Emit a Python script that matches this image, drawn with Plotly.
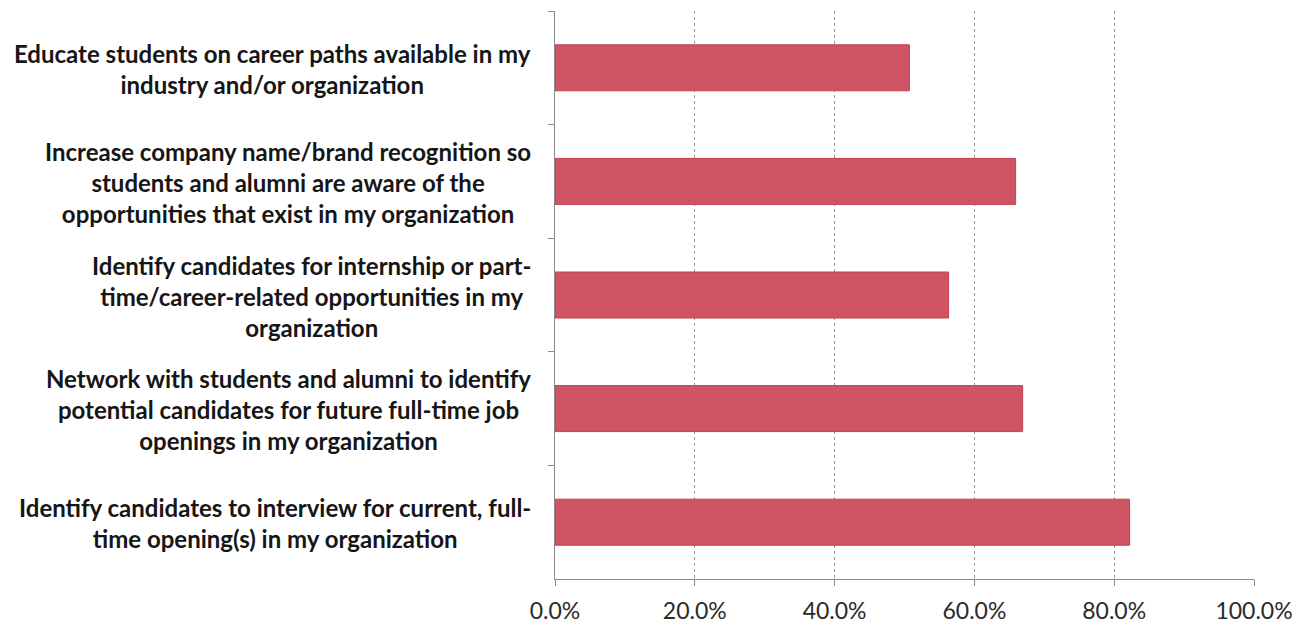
import plotly.graph_objects as go

categories = [
    "Educate students on career paths available in my<br>industry and/or organization",
    "Increase company name/brand recognition so<br>students and alumni are aware of the<br>opportunities that exist in my organization",
    "Identify candidates for internship or part-<br>time/career-related opportunities in my<br>organization",
    "Network with students and alumni to identify<br>potential candidates for future full-time job<br>openings in my organization",
    "Identify candidates to interview for current, full-<br>time opening(s) in my organization",
]
values = [0.507, 0.659, 0.563, 0.669, 0.822]
x_ticks = [0, 0.2, 0.4, 0.6, 0.8, 1.0]
x_tick_labels = ["0.0%", "20.0%", "40.0%", "60.0%", "80.0%", "100.0%"]

BAR = "#CF5464"
EDGE = "#C4404F"
LABEL_FONT = "Lato"

fig = go.Figure()
fig.add_trace(go.Bar(
    y=categories,
    x=values,
    orientation="h",
    marker=dict(color=BAR, line=dict(color=EDGE, width=1)),
    hoverinfo="x+y",
))

for cat in categories:
    fig.add_annotation(
        x=0, xref="paper", y=cat, yref="y",
        text=cat, showarrow=False,
        xanchor="right", yanchor="middle", align="center",
        xshift=-22, yshift=-1,
        font=dict(family=LABEL_FONT, size=24, color="#161616", weight="bold"),
    )

fig.update_layout(
    width=1297, height=619,
    margin=dict(l=547, r=51, t=3, b=48),
    paper_bgcolor="white", plot_bgcolor="white",
    showlegend=False,
    bargap=0.595,
    xaxis=dict(
        range=[0, 1.0],
        tickvals=x_ticks, ticktext=x_tick_labels,
        showgrid=True, gridcolor="#9a9a9a", griddash="dot", gridwidth=1,
        zeroline=False,
        showline=True, linecolor="#8a8a8a", linewidth=1,
        ticks="outside", ticklen=6, tickcolor="#8a8a8a",
        ticklabelstandoff=5,
        tickfont=dict(family=LABEL_FONT, size=23, color="#2a2a2a"),
        automargin=False,
        fixedrange=True,
    ),
    yaxis=dict(
        autorange="reversed",
        showticklabels=False,
        showgrid=False, zeroline=False,
        showline=True, linecolor="#8a8a8a", linewidth=1,
        ticks="outside", ticklen=6, tickcolor="#8a8a8a",
        tickson="boundaries",
        automargin=False,
        fixedrange=True,
    ),
)

fig.write_html("out.html")
